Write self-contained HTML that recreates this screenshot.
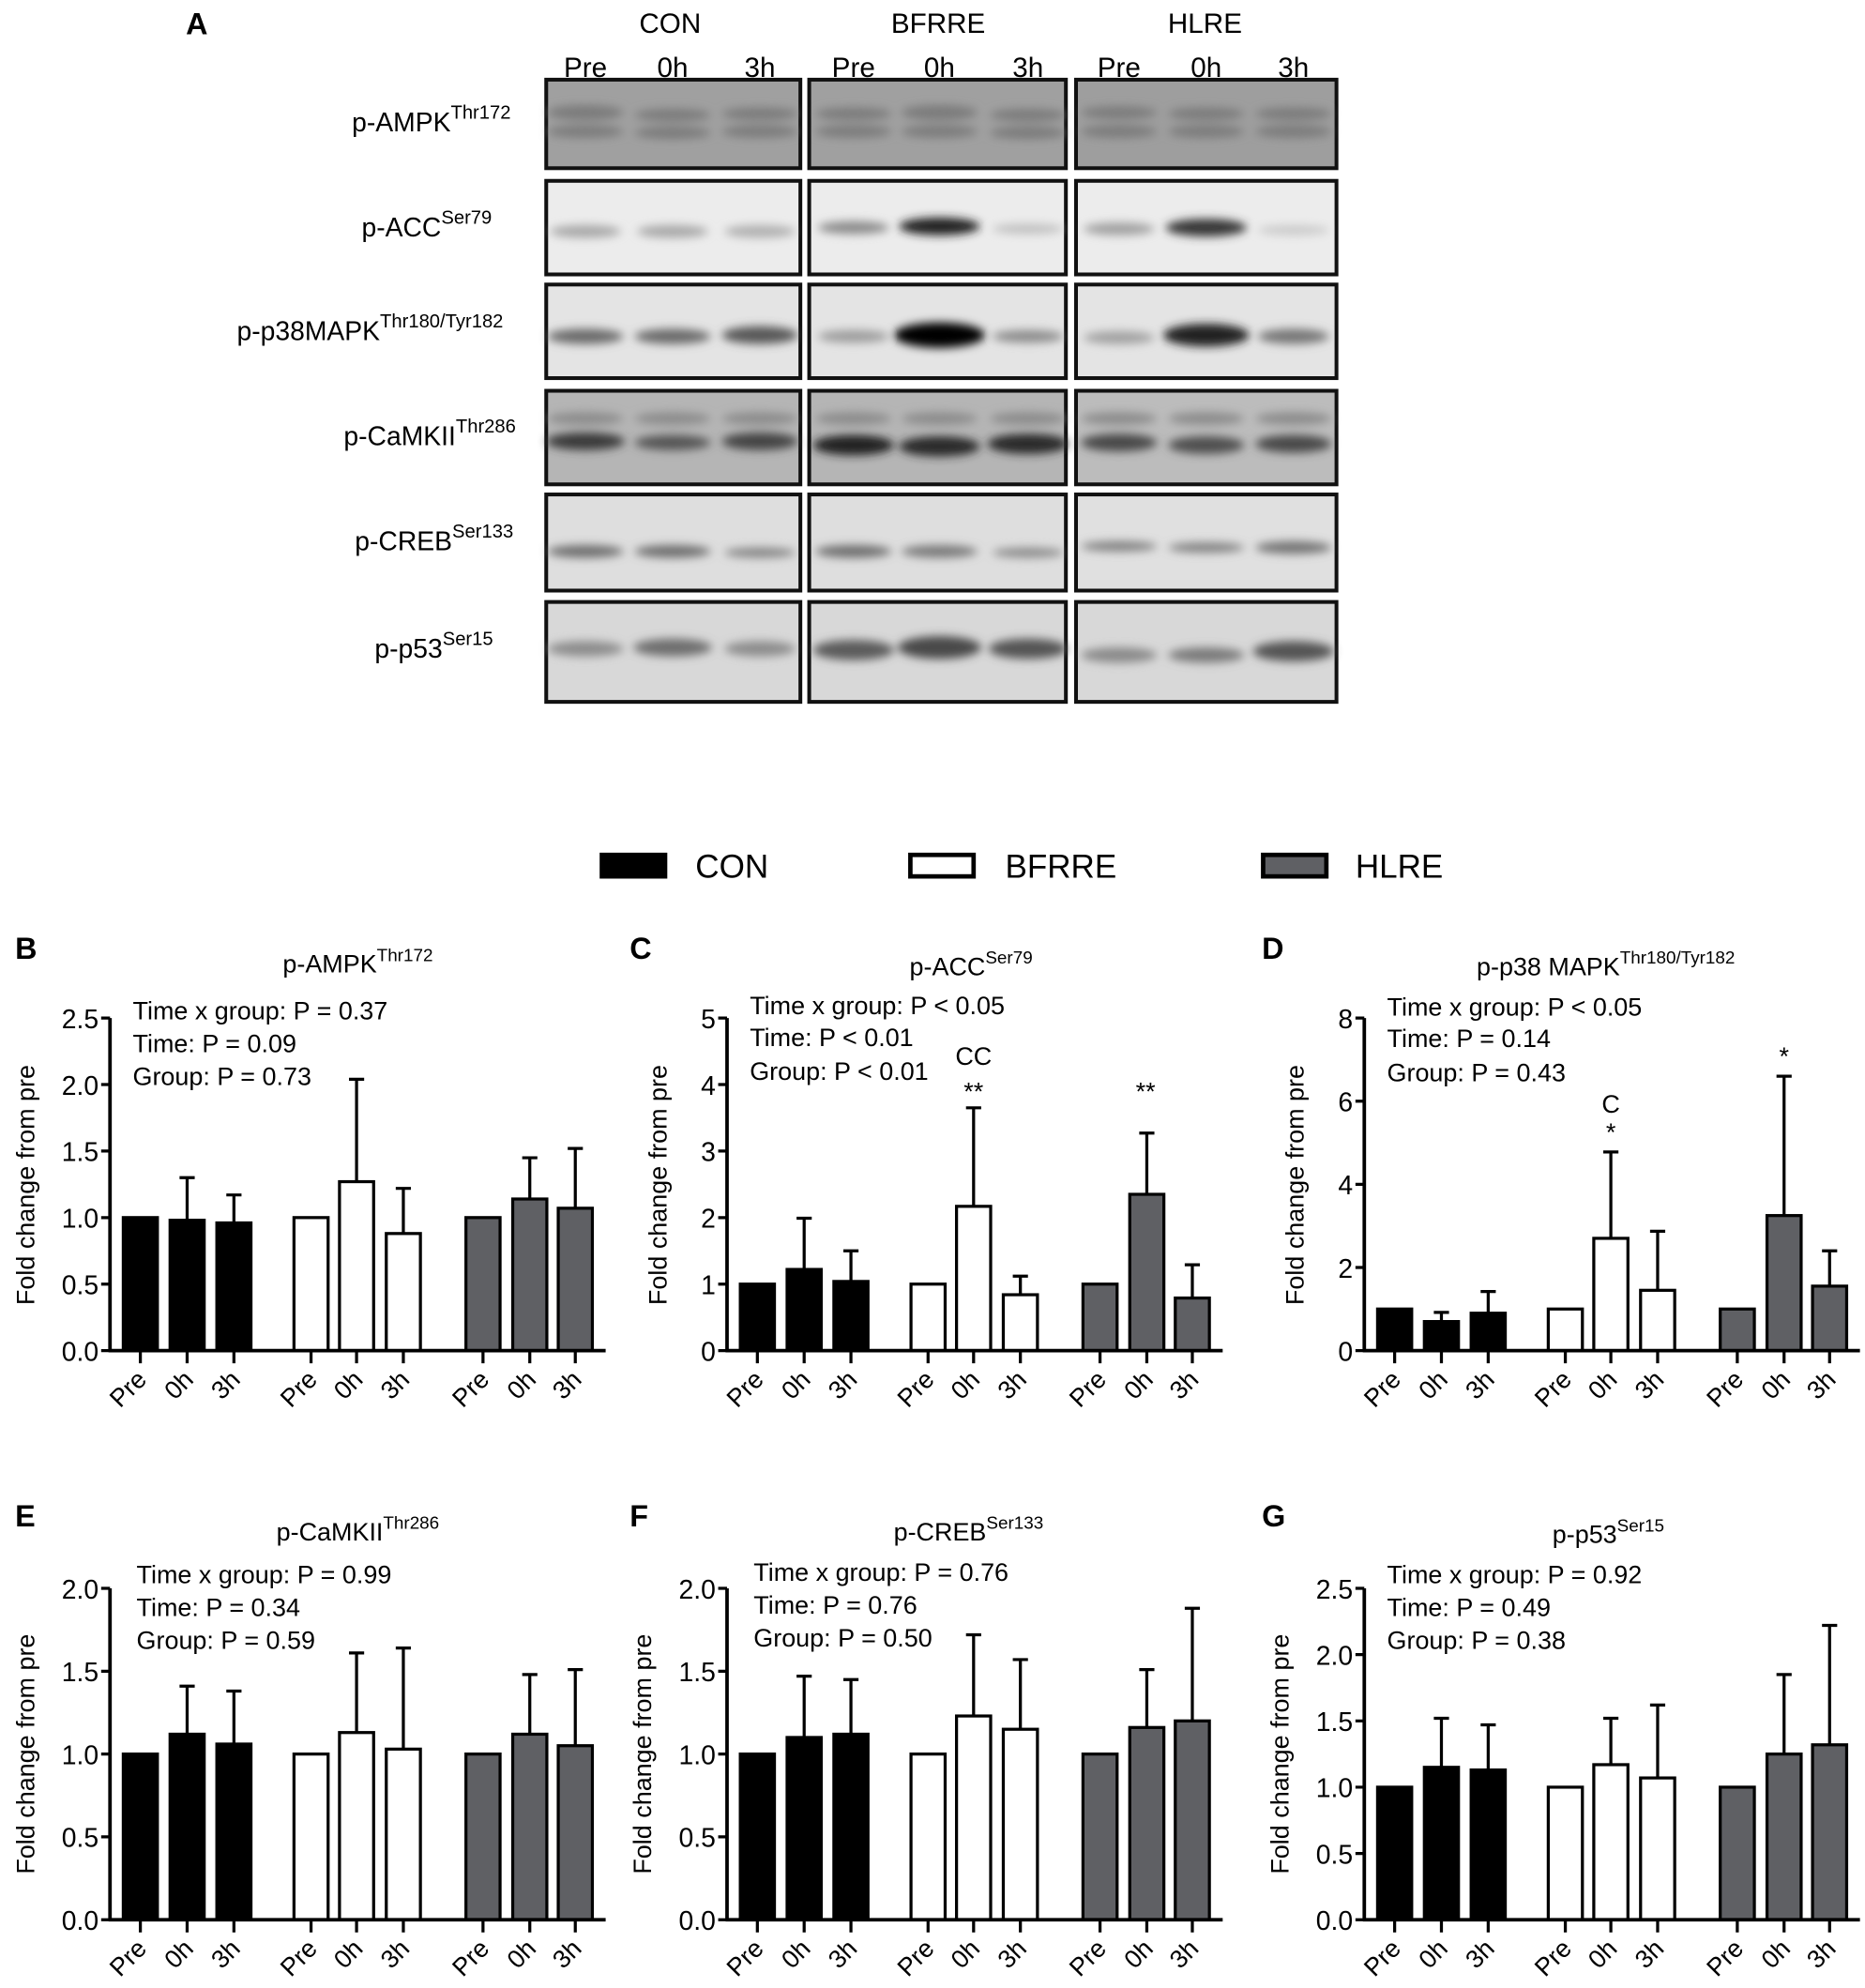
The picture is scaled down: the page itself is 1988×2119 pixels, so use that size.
<!DOCTYPE html>
<html><head><meta charset="utf-8"><style>
html,body{margin:0;padding:0;background:#fff}
svg{display:block}
text{font-family:"Liberation Sans",Arial,sans-serif;fill:#000}
</style></head><body>
<svg width="1988" height="2119" viewBox="0 0 1475 1572" preserveAspectRatio="none" xmlns="http://www.w3.org/2000/svg">
<defs>
<filter id="bl" x="-50%" y="-100%" width="200%" height="300%"><feGaussianBlur stdDeviation="3.5"/></filter>
</defs>
<text x="147" y="27" font-size="24" font-weight="bold">A</text>
<g font-size="22" text-anchor="middle">
<text x="530" y="26">CON</text><text x="742" y="26">BFRRE</text><text x="953" y="26">HLRE</text>
<text x="463" y="61">Pre</text><text x="532" y="61">0h</text><text x="601" y="61">3h</text>
<text x="675" y="61">Pre</text><text x="743" y="61">0h</text><text x="813" y="61">3h</text>
<text x="885" y="61">Pre</text><text x="954" y="61">0h</text><text x="1023" y="61">3h</text>
</g>
<g stroke="#111" stroke-width="3">
<rect x="432" y="63" width="201" height="70" fill="#a0a0a0"/><rect x="640" y="63" width="203" height="70" fill="#a0a0a0"/><rect x="851" y="63" width="206" height="70" fill="#9e9e9e"/>
<rect x="432" y="143" width="201" height="74" fill="#ececec"/><rect x="640" y="143" width="203" height="74" fill="#ececec"/><rect x="851" y="143" width="206" height="74" fill="#ececec"/>
<rect x="432" y="225" width="201" height="74" fill="#e4e4e4"/><rect x="640" y="225" width="203" height="74" fill="#e4e4e4"/><rect x="851" y="225" width="206" height="74" fill="#e4e4e4"/>
<rect x="432" y="309" width="201" height="74" fill="#b5b5b5"/><rect x="640" y="309" width="203" height="74" fill="#b5b5b5"/><rect x="851" y="309" width="206" height="74" fill="#bcbcbc"/>
<rect x="432" y="391" width="201" height="76" fill="#dedede"/><rect x="640" y="391" width="203" height="76" fill="#dedede"/><rect x="851" y="391" width="206" height="76" fill="#e0e0e0"/>
<rect x="432" y="476" width="201" height="79" fill="#d8d8d8"/><rect x="640" y="476" width="203" height="79" fill="#d8d8d8"/><rect x="851" y="476" width="206" height="79" fill="#d8d8d8"/>
</g>
<g filter="url(#bl)">
<g fill="#7c7c7c"><ellipse cx="463" cy="89" rx="30" ry="6"/><ellipse cx="532" cy="91" rx="30" ry="5"/><ellipse cx="601" cy="90" rx="30" ry="5"/><ellipse cx="675" cy="90" rx="30" ry="5"/><ellipse cx="743" cy="89" rx="30" ry="6"/><ellipse cx="813" cy="91" rx="30" ry="5"/><ellipse cx="885" cy="89" rx="30" ry="5"/><ellipse cx="954" cy="90" rx="30" ry="5"/><ellipse cx="1023" cy="90" rx="30" ry="5"/>
<ellipse cx="463" cy="104" rx="30" ry="5"/><ellipse cx="532" cy="105" rx="30" ry="5"/><ellipse cx="601" cy="104" rx="30" ry="5"/><ellipse cx="675" cy="104" rx="30" ry="5"/><ellipse cx="743" cy="104" rx="30" ry="5"/><ellipse cx="813" cy="105" rx="30" ry="5"/><ellipse cx="885" cy="104" rx="30" ry="5"/><ellipse cx="954" cy="104" rx="30" ry="5"/><ellipse cx="1023" cy="104" rx="30" ry="5"/></g>
<ellipse cx="463" cy="183" rx="28" ry="5" fill="#a8a8a8"/><ellipse cx="532" cy="183" rx="28" ry="5" fill="#a8a8a8"/><ellipse cx="601" cy="183" rx="28" ry="5" fill="#b0b0b0"/>
<ellipse cx="675" cy="180" rx="28" ry="5" fill="#8a8a8a"/><ellipse cx="743" cy="179" rx="32" ry="7" fill="#202020"/><ellipse cx="813" cy="181" rx="28" ry="4" fill="#c0c0c0"/>
<ellipse cx="885" cy="181" rx="28" ry="5" fill="#a0a0a0"/><ellipse cx="954" cy="180" rx="32" ry="7" fill="#383838"/><ellipse cx="1023" cy="182" rx="28" ry="4" fill="#cacaca"/>
<ellipse cx="463" cy="266" rx="30" ry="6" fill="#6a6a6a"/><ellipse cx="532" cy="266" rx="30" ry="6" fill="#6a6a6a"/><ellipse cx="601" cy="265" rx="30" ry="7" fill="#585858"/>
<ellipse cx="675" cy="266" rx="28" ry="5" fill="#9c9c9c"/><ellipse cx="743" cy="265" rx="36" ry="10" fill="#000"/><ellipse cx="813" cy="266" rx="28" ry="5" fill="#8c8c8c"/>
<ellipse cx="885" cy="267" rx="28" ry="5" fill="#a0a0a0"/><ellipse cx="954" cy="265" rx="34" ry="9" fill="#202020"/><ellipse cx="1023" cy="266" rx="28" ry="6" fill="#777"/>
<g fill="#8c8c8c"><ellipse cx="463" cy="331" rx="30" ry="5"/><ellipse cx="532" cy="331" rx="30" ry="5"/><ellipse cx="601" cy="331" rx="30" ry="5"/><ellipse cx="675" cy="331" rx="30" ry="5"/><ellipse cx="743" cy="331" rx="30" ry="5"/><ellipse cx="813" cy="331" rx="30" ry="5"/><ellipse cx="885" cy="331" rx="30" ry="5"/><ellipse cx="954" cy="331" rx="30" ry="5"/><ellipse cx="1023" cy="331" rx="30" ry="5"/></g>
<g fill="#3a3a3a"><ellipse cx="463" cy="349" rx="31" ry="7"/><ellipse cx="532" cy="350" rx="30" ry="6" fill="#555"/><ellipse cx="601" cy="349" rx="30" ry="7" fill="#454545"/><ellipse cx="675" cy="352" rx="32" ry="8" fill="#222"/><ellipse cx="743" cy="353" rx="32" ry="8" fill="#2a2a2a"/><ellipse cx="813" cy="351" rx="32" ry="8" fill="#2c2c2c"/><ellipse cx="885" cy="350" rx="30" ry="7" fill="#4a4a4a"/><ellipse cx="954" cy="352" rx="30" ry="7" fill="#505050"/><ellipse cx="1023" cy="351" rx="30" ry="7" fill="#4a4a4a"/></g>
<g fill="#6e6e6e"><ellipse cx="463" cy="436" rx="30" ry="5"/><ellipse cx="532" cy="436" rx="30" ry="5"/><ellipse cx="601" cy="437" rx="28" ry="4" fill="#858585"/><ellipse cx="675" cy="436" rx="30" ry="5"/><ellipse cx="743" cy="436" rx="30" ry="5" fill="#7a7a7a"/><ellipse cx="813" cy="437" rx="28" ry="4" fill="#8c8c8c"/><ellipse cx="885" cy="432" rx="30" ry="4" fill="#808080"/><ellipse cx="954" cy="433" rx="30" ry="4" fill="#808080"/><ellipse cx="1023" cy="433" rx="30" ry="5" fill="#737373"/></g>
<ellipse cx="463" cy="513" rx="30" ry="6" fill="#8c8c8c"/><ellipse cx="532" cy="512" rx="31" ry="7" fill="#6e6e6e"/><ellipse cx="601" cy="513" rx="28" ry="6" fill="#8c8c8c"/>
<ellipse cx="675" cy="514" rx="32" ry="8" fill="#5c5c5c"/><ellipse cx="743" cy="512" rx="33" ry="9" fill="#4a4a4a"/><ellipse cx="813" cy="513" rx="31" ry="8" fill="#555"/>
<ellipse cx="885" cy="518" rx="30" ry="6" fill="#8a8a8a"/><ellipse cx="954" cy="518" rx="30" ry="6" fill="#7a7a7a"/><ellipse cx="1023" cy="515" rx="32" ry="8" fill="#555"/>
</g>
<g font-size="21" text-anchor="end">
<text x="404" y="104">p-AMPK<tspan font-size="15" dy="-10">Thr172</tspan></text>
<text x="389" y="187">p-ACC<tspan font-size="15" dy="-10">Ser79</tspan></text>
<text x="398" y="269">p-p38MAPK<tspan font-size="15" dy="-10">Thr180/Tyr182</tspan></text>
<text x="408" y="352">p-CaMKII<tspan font-size="15" dy="-10">Thr286</tspan></text>
<text x="406" y="435">p-CREB<tspan font-size="15" dy="-10">Ser133</tspan></text>
<text x="390" y="520">p-p53<tspan font-size="15" dy="-10">Ser15</tspan></text>
</g>
<g stroke="#000" stroke-width="3.5">
<rect x="476" y="676" width="50" height="17" fill="#000"/>
<rect x="720" y="676" width="50" height="17" fill="#fff"/>
<rect x="999" y="676" width="50" height="17" fill="#5f6064"/>
</g>
<g font-size="26"><text x="550" y="694">CON</text><text x="795" y="694">BFRRE</text><text x="1072" y="694">HLRE</text></g>

<g font-size="24" font-weight="bold">
<text x="12" y="758">B</text><text x="498" y="758">C</text><text x="998" y="758">D</text>
<text x="12" y="1207">E</text><text x="498" y="1207">F</text><text x="998" y="1207">G</text>
</g>
<g font-size="20" text-anchor="middle">
<text x="283" y="769">p-AMPK<tspan font-size="14" dy="-9">Thr172</tspan></text>
<text x="768" y="771">p-ACC<tspan font-size="14" dy="-9">Ser79</tspan></text>
<text x="1270" y="771">p-p38 MAPK<tspan font-size="14" dy="-9">Thr180/Tyr182</tspan></text>
<text x="283" y="1218">p-CaMKII<tspan font-size="14" dy="-9">Thr286</tspan></text>
<text x="766" y="1218">p-CREB<tspan font-size="14" dy="-9">Ser133</tspan></text>
<text x="1272" y="1220">p-p53<tspan font-size="14" dy="-9">Ser15</tspan></text>
</g>
<g font-size="20">
<text x="105" y="806">Time x group: P = 0.37</text><text x="105" y="832">Time: P = 0.09</text><text x="105" y="858">Group: P = 0.73</text>
<text x="593" y="802">Time x group: P &lt; 0.05</text><text x="593" y="827">Time: P &lt; 0.01</text><text x="593" y="854">Group: P &lt; 0.01</text>
<text x="1097" y="803">Time x group: P &lt; 0.05</text><text x="1097" y="828">Time: P = 0.14</text><text x="1097" y="855">Group: P = 0.43</text>
<text x="108" y="1252">Time x group: P = 0.99</text><text x="108" y="1278">Time: P = 0.34</text><text x="108" y="1304">Group: P = 0.59</text>
<text x="596" y="1250">Time x group: P = 0.76</text><text x="596" y="1276">Time: P = 0.76</text><text x="596" y="1302">Group: P = 0.50</text>
<text x="1097" y="1252">Time x group: P = 0.92</text><text x="1097" y="1278">Time: P = 0.49</text><text x="1097" y="1304">Group: P = 0.38</text>
</g>
<g font-size="20" text-anchor="middle">
<text x="770" y="842">CC</text><text x="770" y="870">**</text><text x="906" y="870">**</text>
<text x="1274" y="880">C</text><text x="1274" y="902">*</text><text x="1411" y="842">*</text>
</g>

<g transform="translate(87,1068)">
<text transform="translate(-60,-131) rotate(-90)" font-size="20" text-anchor="middle">Fold change from pre</text>
<g font-size="21" text-anchor="end"><text x="-9" y="8">0.0</text><text x="-9" y="-44.6">0.5</text><text x="-9" y="-97.2">1.0</text><text x="-9" y="-149.8">1.5</text><text x="-9" y="-202.4">2.0</text><text x="-9" y="-255">2.5</text></g>
<g stroke="#000" stroke-width="2.4">
<path d="M-7 0H0M-7 -52.6H0M-7 -105.2H0M-7 -157.8H0M-7 -210.4H0M-7 -263H0" />
<path d="M24 0v10M61 0v10M98 0v10M159 0v10M195 0v10M232 0v10M295 0v10M332 0v10M368 0v10"/>
<path d="M61 -103.1V-136.8M55 -136.8h12M98 -101V-123.1M92 -123.1h12M195 -133.6V-214.6M189 -214.6h12M232 -92.6V-128.3M226 -128.3h12M332 -119.9V-152.5M326 -152.5h12M368 -112.6V-159.9M362 -159.9h12"/>
<rect x="10.5" y="-105.2" width="27" height="105.2" fill="#000"/><rect x="47.5" y="-103.1" width="27" height="103.1" fill="#000"/><rect x="84.5" y="-101" width="27" height="101" fill="#000"/>
<rect x="145.5" y="-105.2" width="27" height="105.2" fill="#fff"/><rect x="181.5" y="-133.6" width="27" height="133.6" fill="#fff"/><rect x="218.5" y="-92.6" width="27" height="92.6" fill="#fff"/>
<rect x="281.5" y="-105.2" width="27" height="105.2" fill="#5f6064"/><rect x="318.5" y="-119.9" width="27" height="119.9" fill="#5f6064"/><rect x="354.5" y="-112.6" width="27" height="112.6" fill="#5f6064"/>
<path d="M0 1.2V-263M-1 0H392" stroke-width="2.8"/>
</g>
<g font-size="20" text-anchor="end">
<text transform="translate(30,24) rotate(-45)">Pre</text><text transform="translate(67,24) rotate(-45)">0h</text><text transform="translate(104,24) rotate(-45)">3h</text>
<text transform="translate(165,24) rotate(-45)">Pre</text><text transform="translate(201,24) rotate(-45)">0h</text><text transform="translate(238,24) rotate(-45)">3h</text>
<text transform="translate(301,24) rotate(-45)">Pre</text><text transform="translate(338,24) rotate(-45)">0h</text><text transform="translate(374,24) rotate(-45)">3h</text>
</g>
</g>

<g transform="translate(575,1068)">
<text transform="translate(-48,-131) rotate(-90)" font-size="20" text-anchor="middle">Fold change from pre</text>
<g font-size="21" text-anchor="end"><text x="-9" y="8">0</text><text x="-9" y="-44.6">1</text><text x="-9" y="-97.2">2</text><text x="-9" y="-149.8">3</text><text x="-9" y="-202.4">4</text><text x="-9" y="-255">5</text></g>
<g stroke="#000" stroke-width="2.4">
<path d="M-7 0H0M-7 -52.6H0M-7 -105.2H0M-7 -157.8H0M-7 -210.4H0M-7 -263H0" />
<path d="M24 0v10M61 0v10M98 0v10M159 0v10M195 0v10M232 0v10M295 0v10M332 0v10M368 0v10"/>
<path d="M61 -64.2V-104.7M55 -104.7h12M98 -54.7V-78.9M92 -78.9h12M195 -114.1V-192M189 -192h12M232 -44.2V-58.9M226 -58.9h12M332 -123.6V-172M326 -172h12M368 -41.6V-67.9M362 -67.9h12"/>
<rect x="10.5" y="-52.6" width="27" height="52.6" fill="#000"/><rect x="47.5" y="-64.2" width="27" height="64.2" fill="#000"/><rect x="84.5" y="-54.7" width="27" height="54.7" fill="#000"/>
<rect x="145.5" y="-52.6" width="27" height="52.6" fill="#fff"/><rect x="181.5" y="-114.1" width="27" height="114.1" fill="#fff"/><rect x="218.5" y="-44.2" width="27" height="44.2" fill="#fff"/>
<rect x="281.5" y="-52.6" width="27" height="52.6" fill="#5f6064"/><rect x="318.5" y="-123.6" width="27" height="123.6" fill="#5f6064"/><rect x="354.5" y="-41.6" width="27" height="41.6" fill="#5f6064"/>
<path d="M0 1.2V-263M-1 0H392" stroke-width="2.8"/>
</g>
<g font-size="20" text-anchor="end">
<text transform="translate(30,24) rotate(-45)">Pre</text><text transform="translate(67,24) rotate(-45)">0h</text><text transform="translate(104,24) rotate(-45)">3h</text>
<text transform="translate(165,24) rotate(-45)">Pre</text><text transform="translate(201,24) rotate(-45)">0h</text><text transform="translate(238,24) rotate(-45)">3h</text>
<text transform="translate(301,24) rotate(-45)">Pre</text><text transform="translate(338,24) rotate(-45)">0h</text><text transform="translate(374,24) rotate(-45)">3h</text>
</g>
</g>

<g transform="translate(1079,1068)">
<text transform="translate(-48,-131) rotate(-90)" font-size="20" text-anchor="middle">Fold change from pre</text>
<g font-size="21" text-anchor="end"><text x="-9" y="8">0</text><text x="-9" y="-57.7">2</text><text x="-9" y="-123.5">4</text><text x="-9" y="-189.2">6</text><text x="-9" y="-255">8</text></g>
<g stroke="#000" stroke-width="2.4">
<path d="M-7 0H0M-7 -65.75H0M-7 -131.5H0M-7 -197.25H0M-7 -263H0" />
<path d="M24 0v10M61 0v10M98 0v10M159 0v10M195 0v10M232 0v10M295 0v10M332 0v10M368 0v10"/>
<path d="M61 -23V-30.2M55 -30.2h12M98 -29.6V-46.7M92 -46.7h12M195 -88.8V-157.1M189 -157.1h12M232 -47.7V-94.4M226 -94.4h12M332 -106.8V-217M326 -217h12M368 -51V-78.9M362 -78.9h12"/>
<rect x="10.5" y="-32.9" width="27" height="32.9" fill="#000"/><rect x="47.5" y="-23" width="27" height="23" fill="#000"/><rect x="84.5" y="-29.6" width="27" height="29.6" fill="#000"/>
<rect x="145.5" y="-32.9" width="27" height="32.9" fill="#fff"/><rect x="181.5" y="-88.8" width="27" height="88.8" fill="#fff"/><rect x="218.5" y="-47.7" width="27" height="47.7" fill="#fff"/>
<rect x="281.5" y="-32.9" width="27" height="32.9" fill="#5f6064"/><rect x="318.5" y="-106.8" width="27" height="106.8" fill="#5f6064"/><rect x="354.5" y="-51" width="27" height="51" fill="#5f6064"/>
<path d="M0 1.2V-263M-1 0H392" stroke-width="2.8"/>
</g>
<g font-size="20" text-anchor="end">
<text transform="translate(30,24) rotate(-45)">Pre</text><text transform="translate(67,24) rotate(-45)">0h</text><text transform="translate(104,24) rotate(-45)">3h</text>
<text transform="translate(165,24) rotate(-45)">Pre</text><text transform="translate(201,24) rotate(-45)">0h</text><text transform="translate(238,24) rotate(-45)">3h</text>
<text transform="translate(301,24) rotate(-45)">Pre</text><text transform="translate(338,24) rotate(-45)">0h</text><text transform="translate(374,24) rotate(-45)">3h</text>
</g>
</g>

<g transform="translate(87,1518)">
<text transform="translate(-60,-131) rotate(-90)" font-size="20" text-anchor="middle">Fold change from pre</text>
<g font-size="21" text-anchor="end"><text x="-9" y="8">0.0</text><text x="-9" y="-57.5">0.5</text><text x="-9" y="-123">1.0</text><text x="-9" y="-188.5">1.5</text><text x="-9" y="-254">2.0</text></g>
<g stroke="#000" stroke-width="2.4">
<path d="M-7 0H0M-7 -65.5H0M-7 -131H0M-7 -196.5H0M-7 -262H0" />
<path d="M24 0v10M61 0v10M98 0v10M159 0v10M195 0v10M232 0v10M295 0v10M332 0v10M368 0v10"/>
<path d="M61 -146.7V-184.7M55 -184.7h12M98 -138.9V-180.8M92 -180.8h12M195 -148V-210.9M189 -210.9h12M232 -134.9V-214.8M226 -214.8h12M332 -146.7V-193.9M326 -193.9h12M368 -137.6V-197.8M362 -197.8h12"/>
<rect x="10.5" y="-131" width="27" height="131" fill="#000"/><rect x="47.5" y="-146.7" width="27" height="146.7" fill="#000"/><rect x="84.5" y="-138.9" width="27" height="138.9" fill="#000"/>
<rect x="145.5" y="-131" width="27" height="131" fill="#fff"/><rect x="181.5" y="-148" width="27" height="148" fill="#fff"/><rect x="218.5" y="-134.9" width="27" height="134.9" fill="#fff"/>
<rect x="281.5" y="-131" width="27" height="131" fill="#5f6064"/><rect x="318.5" y="-146.7" width="27" height="146.7" fill="#5f6064"/><rect x="354.5" y="-137.6" width="27" height="137.6" fill="#5f6064"/>
<path d="M0 1.2V-262M-1 0H392" stroke-width="2.8"/>
</g>
<g font-size="20" text-anchor="end">
<text transform="translate(30,24) rotate(-45)">Pre</text><text transform="translate(67,24) rotate(-45)">0h</text><text transform="translate(104,24) rotate(-45)">3h</text>
<text transform="translate(165,24) rotate(-45)">Pre</text><text transform="translate(201,24) rotate(-45)">0h</text><text transform="translate(238,24) rotate(-45)">3h</text>
<text transform="translate(301,24) rotate(-45)">Pre</text><text transform="translate(338,24) rotate(-45)">0h</text><text transform="translate(374,24) rotate(-45)">3h</text>
</g>
</g>

<g transform="translate(575,1518)">
<text transform="translate(-60,-131) rotate(-90)" font-size="20" text-anchor="middle">Fold change from pre</text>
<g font-size="21" text-anchor="end"><text x="-9" y="8">0.0</text><text x="-9" y="-57.5">0.5</text><text x="-9" y="-123">1.0</text><text x="-9" y="-188.5">1.5</text><text x="-9" y="-254">2.0</text></g>
<g stroke="#000" stroke-width="2.4">
<path d="M-7 0H0M-7 -65.5H0M-7 -131H0M-7 -196.5H0M-7 -262H0" />
<path d="M24 0v10M61 0v10M98 0v10M159 0v10M195 0v10M232 0v10M295 0v10M332 0v10M368 0v10"/>
<path d="M61 -144.1V-192.6M55 -192.6h12M98 -146.7V-189.9M92 -189.9h12M195 -161.1V-225.3M189 -225.3h12M232 -150.6V-205.7M226 -205.7h12M332 -152V-197.8M326 -197.8h12M368 -157.2V-246.3M362 -246.3h12"/>
<rect x="10.5" y="-131" width="27" height="131" fill="#000"/><rect x="47.5" y="-144.1" width="27" height="144.1" fill="#000"/><rect x="84.5" y="-146.7" width="27" height="146.7" fill="#000"/>
<rect x="145.5" y="-131" width="27" height="131" fill="#fff"/><rect x="181.5" y="-161.1" width="27" height="161.1" fill="#fff"/><rect x="218.5" y="-150.6" width="27" height="150.6" fill="#fff"/>
<rect x="281.5" y="-131" width="27" height="131" fill="#5f6064"/><rect x="318.5" y="-152" width="27" height="152" fill="#5f6064"/><rect x="354.5" y="-157.2" width="27" height="157.2" fill="#5f6064"/>
<path d="M0 1.2V-262M-1 0H392" stroke-width="2.8"/>
</g>
<g font-size="20" text-anchor="end">
<text transform="translate(30,24) rotate(-45)">Pre</text><text transform="translate(67,24) rotate(-45)">0h</text><text transform="translate(104,24) rotate(-45)">3h</text>
<text transform="translate(165,24) rotate(-45)">Pre</text><text transform="translate(201,24) rotate(-45)">0h</text><text transform="translate(238,24) rotate(-45)">3h</text>
<text transform="translate(301,24) rotate(-45)">Pre</text><text transform="translate(338,24) rotate(-45)">0h</text><text transform="translate(374,24) rotate(-45)">3h</text>
</g>
</g>

<g transform="translate(1079,1518)">
<text transform="translate(-60,-131) rotate(-90)" font-size="20" text-anchor="middle">Fold change from pre</text>
<g font-size="21" text-anchor="end"><text x="-9" y="8">0.0</text><text x="-9" y="-44.4">0.5</text><text x="-9" y="-96.8">1.0</text><text x="-9" y="-149.2">1.5</text><text x="-9" y="-201.6">2.0</text><text x="-9" y="-254">2.5</text></g>
<g stroke="#000" stroke-width="2.4">
<path d="M-7 0H0M-7 -52.4H0M-7 -104.8H0M-7 -157.2H0M-7 -209.6H0M-7 -262H0" />
<path d="M24 0v10M61 0v10M98 0v10M159 0v10M195 0v10M232 0v10M295 0v10M332 0v10M368 0v10"/>
<path d="M61 -120.5V-159.3M55 -159.3h12M98 -118.4V-154.1M92 -154.1h12M195 -122.6V-159.3M189 -159.3h12M232 -112.1V-169.8M226 -169.8h12M332 -131V-193.9M326 -193.9h12M368 -138.3V-232.7M362 -232.7h12"/>
<rect x="10.5" y="-104.8" width="27" height="104.8" fill="#000"/><rect x="47.5" y="-120.5" width="27" height="120.5" fill="#000"/><rect x="84.5" y="-118.4" width="27" height="118.4" fill="#000"/>
<rect x="145.5" y="-104.8" width="27" height="104.8" fill="#fff"/><rect x="181.5" y="-122.6" width="27" height="122.6" fill="#fff"/><rect x="218.5" y="-112.1" width="27" height="112.1" fill="#fff"/>
<rect x="281.5" y="-104.8" width="27" height="104.8" fill="#5f6064"/><rect x="318.5" y="-131" width="27" height="131" fill="#5f6064"/><rect x="354.5" y="-138.3" width="27" height="138.3" fill="#5f6064"/>
<path d="M0 1.2V-262M-1 0H392" stroke-width="2.8"/>
</g>
<g font-size="20" text-anchor="end">
<text transform="translate(30,24) rotate(-45)">Pre</text><text transform="translate(67,24) rotate(-45)">0h</text><text transform="translate(104,24) rotate(-45)">3h</text>
<text transform="translate(165,24) rotate(-45)">Pre</text><text transform="translate(201,24) rotate(-45)">0h</text><text transform="translate(238,24) rotate(-45)">3h</text>
<text transform="translate(301,24) rotate(-45)">Pre</text><text transform="translate(338,24) rotate(-45)">0h</text><text transform="translate(374,24) rotate(-45)">3h</text>
</g>
</g>
</svg>
</body></html>
